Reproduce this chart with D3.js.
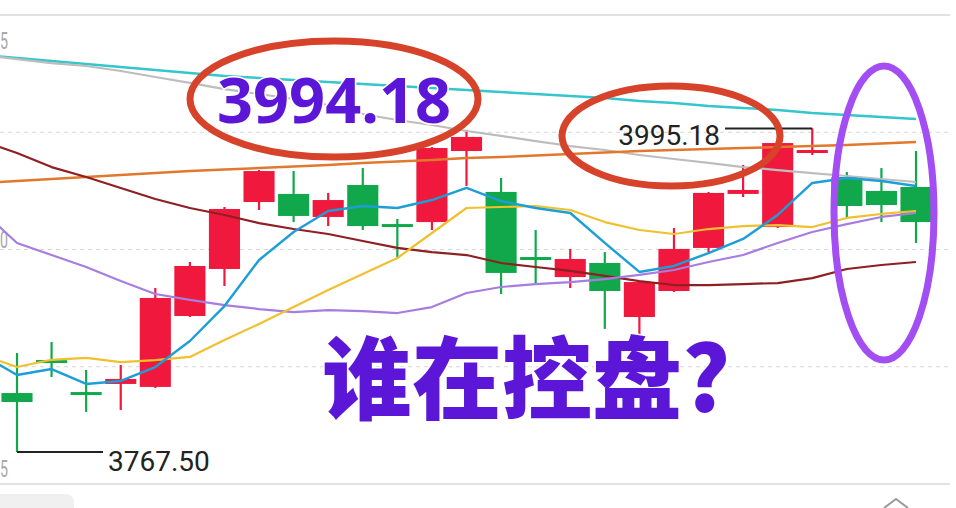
<!DOCTYPE html>
<html><head><meta charset="utf-8">
<script src="https://cdn.jsdelivr.net/npm/d3@7"></script>
<style>html,body{margin:0;padding:0;background:#fff;overflow:hidden}</style>
</head><body><svg id="c" width="956" height="508"></svg>
<script>
// ---- data ----
const days = d3.range(1, 28).map(d => "D" + d);
const open  = [3809.0,3832.2,3809.7,3815.4,3813.3,3863.2,3896.3,3943.4,3949.1,3932.9,3955.4,3927.9,3929.3,3979.3,3950.5,3904.7,3890.6,3900.5,3862.5,3880.8,3911.1,3949.1,3925.8,3977.9,3961.0,3951.2,3954.0];
const high  = [3837.2,3844.9,3825.2,3828.7,3882.9,3901.2,3939.9,3965.9,3965.2,3949.8,3967.3,3931.5,3982.1,3994.18,3960.3,3923.7,3910.4,3908.2,3887.8,3925.1,3950.5,3969.5,3985.6,3995.18,3964.5,3967.3,3979.3];
const low   = [3767.50,3820.3,3795.7,3797.1,3812.5,3862.5,3884.3,3937.8,3929.3,3926.5,3923.7,3904.7,3923.7,3954.7,3878.7,3886.4,3882.9,3854.1,3848.4,3880.1,3908.2,3946.9,3925.1,3976.5,3932.2,3929.3,3914.6];
const close = [3802.7,3830.1,3808.3,3818.9,3875.9,3898.4,3938.5,3965.2,3933.6,3944.8,3926.5,3926.5,3981.4,3989.2,3893.5,3903.3,3903.3,3880.8,3887.1,3910.4,3949.8,3951.9,3984.9,3980.0,3940.6,3941.3,3929.3];
// moving averages: first value belongs to the day before the first visible candle
const ma5   = [3835.8,3821.7,3825.9,3815.4,3817.5,3827.3,3845.6,3870.2,3902.6,3922.3,3937.1,3940.6,3939.2,3944.8,3953.3,3944.1,3939.2,3935.7,3914.6,3894.2,3898.4,3907.5,3917.4,3934.3,3956.8,3960.3,3958.2,3954.7];
const ma10  = [3835.8,3827.3,3832.4,3833.8,3830.8,3832.2,3834.4,3846.3,3857.6,3869.5,3881.5,3892.8,3904.0,3921.6,3939.2,3939.9,3940.6,3937.8,3929.3,3923.7,3920.9,3924.4,3926.5,3927.2,3925.8,3932.2,3935.0,3937.1];
const ma20  = [3937.1,3914.6,3906.1,3897.7,3887.8,3878.7,3874.5,3870.9,3868.1,3866.0,3867.4,3866.7,3865.3,3869.5,3879.4,3883.6,3885.7,3887.1,3889.2,3892.1,3895.6,3901.2,3906.1,3914.6,3922.3,3927.9,3932.9,3935.7];
const ma30  = [3986.3,3977.9,3968.0,3961.0,3953.3,3945.5,3939.2,3934.3,3928.6,3924.4,3920.9,3916.0,3911.1,3908.2,3906.1,3900.5,3897.7,3894.9,3891.4,3887.8,3885.0,3885.0,3885.7,3886.4,3889.9,3896.3,3899.1,3901.2];
const ma60  = [3956.8,3958.2,3959.6,3961.0,3962.4,3963.8,3965.2,3966.3,3967.3,3968.4,3969.5,3970.9,3971.9,3973.0,3974.4,3975.1,3976.1,3977.2,3978.3,3979.3,3980.0,3980.7,3981.4,3982.1,3982.8,3983.5,3984.6,3985.6];
const ma120 = [4046.9,4044.0,4041.2,4039.1,4035.6,4031.4,4027.2,4022.9,4019.4,4015.9,4011.7,4005.3,4001.1,3997.6,3993.4,3989.9,3986.3,3982.8,3980.0,3976.5,3973.7,3970.9,3968.0,3965.9,3963.8,3961.7,3959.6,3957.5];
const ma250 = [4046.9,4044.7,4042.6,4040.5,4038.4,4036.3,4034.2,4032.1,4030.7,4029.3,4027.9,4026.5,4025.0,4023.6,4022.2,4020.8,4019.4,4018.0,4016.6,4014.5,4013.1,4011.0,4009.6,4008.2,4006.0,4004.6,4003.2,4001.8];
const gridTicks = [4075, 3992.5, 3910, 3827.5, 3745];
const axisLabels = [4075, 3910, 3745];
const highLabel = "3995.18";
const lowLabel = "3767.50";
const bigNumber = "3994.18";
const headline = "谁在控盘?";

// ---- scales ----
const svg = d3.select("#c");
const x = d3.scaleLinear().domain([0, days.length - 1]).range([17, 916]);
const step = x(1) - x(0);
const bw = step * 0.9;
const y = d3.scaleLinear().domain([3745, 4075]).range([484, 15]);
const right = 950;

// ---- grid ----
const g = svg.append("g");
gridTicks.forEach((t, i) => {
  const edge = (i === 0 || i === gridTicks.length - 1);
  g.append("line").attr("x1", 0).attr("x2", right)
    .attr("y1", y(t)).attr("y2", y(t))
    .attr("stroke", edge ? "#e2e2e2" : "#d6d6d6")
    .attr("stroke-width", edge ? 2 : 1)
    .attr("stroke-dasharray", edge ? null : "4,4");
});
// axis labels: only the last digit is visible at the left edge in the screenshot
const labY = [49, 248, 477];
axisLabels.forEach((t, i) => {
  g.append("text").attr("x", 0).attr("y", labY[i])
    .attr("font-family", "Roboto, sans-serif")
    .attr("font-size", 23).attr("fill", "#a8a8a8")
    .attr("textLength", 8).attr("lengthAdjust", "spacingAndGlyphs")
    .text(String(t).slice(-1));
});

// ---- candles ----
const RED = "#f0183c", GREEN = "#11a84c";
const cg = svg.append("g");
days.forEach((d, i) => {
  const up = close[i] >= open[i];
  const col = up ? RED : GREEN;
  const cx = x(i);
  cg.append("line").attr("x1", cx).attr("x2", cx)
    .attr("y1", y(high[i])).attr("y2", y(low[i]))
    .attr("stroke", col).attr("stroke-width", 2.2);
  const top = y(Math.max(open[i], close[i]));
  const h = Math.max(3, Math.abs(y(open[i]) - y(close[i])));
  cg.append("rect").attr("x", cx - bw / 2).attr("y", top)
    .attr("width", bw).attr("height", h).attr("fill", col);
});

// ---- moving averages ----
const line = d3.line().x((d, i) => x(i - 1)).y(d => y(d));
const mas = [
  [ma250, "#34c6cc", 2.4],
  [ma120, "#bdbdbd", 2.2],
  [ma60, "#e2782e", 2.4],
  [ma30, "#8e1f22", 2.2],
  [ma20, "#a77de0", 2.2],
  [ma10, "#f0c02e", 2.2],
  [ma5, "#1c9ed6", 2.4]
];
const lg = svg.append("g");
mas.forEach(([arr, col, w]) => {
  lg.append("path").attr("d", line(arr)).attr("fill", "none")
    .attr("stroke", col).attr("stroke-width", w).attr("stroke-linejoin", "round");
});

// ---- high / low markers ----
const ag = svg.append("g");
const hiIdx = high.indexOf(d3.max(high));
const loIdx = low.indexOf(d3.min(low));
ag.append("line").attr("x1", x(hiIdx)).attr("x2", 725)
  .attr("y1", y(high[hiIdx])).attr("y2", y(high[hiIdx]))
  .attr("stroke", "#222").attr("stroke-width", 2);
ag.append("text").attr("x", 720).attr("y", 145).attr("text-anchor", "end")
  .attr("font-family", "Roboto, sans-serif").attr("font-size", 28).attr("fill", "#222")
  .text(highLabel);
ag.append("line").attr("x1", x(loIdx)).attr("x2", 103)
  .attr("y1", y(low[loIdx])).attr("y2", y(low[loIdx]))
  .attr("stroke", "#222").attr("stroke-width", 2);
ag.append("text").attr("x", 108).attr("y", 471)
  .attr("font-family", "Roboto, sans-serif").attr("font-size", 28).attr("fill", "#222")
  .text(lowLabel);

// ---- decorations: ellipses and big texts ----
const PURPLE = "#5b16d8";
ag.append("ellipse").attr("cx", 334).attr("cy", 99).attr("rx", 144).attr("ry", 58)
  .attr("fill", "none").attr("stroke", "#d6432a").attr("stroke-width", 7);
ag.append("text").attr("x", 334).attr("y", 123).attr("text-anchor", "middle")
  .attr("font-family", "'Noto Sans', Roboto, sans-serif").attr("font-weight", 700)
  .attr("font-size", 63).attr("fill", PURPLE)
  .attr("stroke", "#fff").attr("stroke-width", 3).attr("paint-order", "stroke")
  .text(bigNumber);
ag.append("ellipse").attr("cx", 671).attr("cy", 136).attr("rx", 109).attr("ry", 50)
  .attr("fill", "none").attr("stroke", "#d6432a").attr("stroke-width", 7);
ag.append("ellipse").attr("cx", 884).attr("cy", 213).attr("rx", 50).attr("ry", 147)
  .attr("fill", "none").attr("stroke", "#a24ef2").attr("stroke-width", 7);
ag.append("text").attr("x", 322).attr("y", 412)
  .attr("font-family", "'Noto Sans CJK SC', sans-serif").attr("font-weight", 900)
  .attr("font-size", 90).attr("fill", PURPLE)
  .attr("stroke", "#fff").attr("stroke-width", 3).attr("paint-order", "stroke")
  .text(headline);

// ---- bottom tab strip ----
svg.append("rect").attr("x", -12).attr("y", 494).attr("width", 86).attr("height", 30)
  .attr("rx", 8).attr("fill", "#f0f0f0");
svg.append("path").attr("d", "M884,508 L896,499 L908,508").attr("fill", "none")
  .attr("stroke", "#9a9a9a").attr("stroke-width", 2);
</script>
</body></html>
